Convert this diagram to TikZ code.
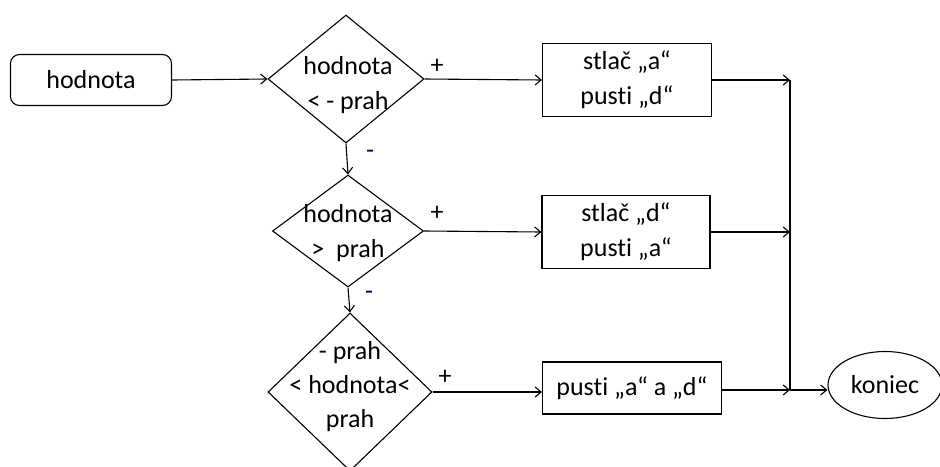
\documentclass[tikz,border=0pt]{standalone}
\usepackage{fontspec}
\setmainfont{Carlito}[Ligatures={NoCommon}]
\usetikzlibrary{shapes.geometric,arrows.meta}
\begin{document}
\begin{tikzpicture}[x=1pt,y=-1pt,
  every node/.style={font=\fontsize{26}{35}\selectfont},
  line/.style={line width=1.1pt},
  flow/.style={line, -{Straight Barb[length=6pt,width=10pt]}},
  startbox/.style={draw, line width=1.1pt, rounded corners=9pt, inner sep=0pt},
  actbox/.style={draw, line width=1.1pt, inner sep=0pt},
  decbox/.style={draw, diamond, line width=1.1pt, inner sep=0pt},
  endbox/.style={draw, ellipse, line width=1.1pt, inner sep=0pt},
  txt/.style={align=center, inner sep=0pt},
  sign/.style={inner sep=0pt}]
\useasboundingbox (0,0) rectangle (940,466);

% start
\node[startbox, minimum width=161pt, minimum height=51pt] (start) at (91,80) {};
\node[txt] at (start) {hodnota};

% decisions
\node[decbox, minimum width=156pt, minimum height=128pt] (d1) at (346,79) {};
\node[txt] at (348,85) {hodnota\\< - prah};
\node[decbox, minimum width=151pt, minimum height=112pt] (d2) at (348,231) {};
\node[txt] at (348,233) {hodnota\\ >\ \ prah};
\node[decbox, minimum width=164pt, minimum height=158pt] (d3) at (350,392) {};
\node[txt, font=\fontsize{26}{34}\selectfont] at (350,387) {- prah\\< hodnota<\\prah};

% actions
\node[actbox, minimum width=169pt, minimum height=73pt] (a1) at (627,80) {};
\node[txt] at (a1) {stlač „a“\\pusti „d“};
\node[actbox, minimum width=168pt, minimum height=73pt] (a2) at (626,232) {};
\node[txt] at (a2) {stlač „d“\\pusti „a“};
\node[actbox, minimum width=179pt, minimum height=52pt] (a3) at (632,388) {};
\node[txt] at (a3) {pusti „a“ a „d“};

% end
\node[endbox, minimum width=114pt, minimum height=67pt] (end) at (885,385) {};
\node[txt] at (end) {koniec};

% merge points
\coordinate (m1) at (790,80);
\coordinate (m2) at (790,232);
\coordinate (m3) at (790,390);

% connectors
\draw[flow] (start.east) -- (d1.west);
\draw[flow] (d1.east) -- (a1.west);
\draw[flow] (d2.east) -- (a2.west);
\draw[flow] (d3.east) -- (a3.west |- d3.east);
\draw[flow] (d1.south) -- (d2.north);
\draw[flow] (d2.south) -- (d3.north);
\draw[flow] (a1.east) -- (m1);
\draw[flow] (a2.east) -- (m2);
\draw[flow] (a3.east |- m3) -- (m3);
\draw[line] (m1) -- (m3);
\draw[flow] (m3) -- (end.west |- m3);

% branch signs
\node[sign] at (437,66) {+};
\node[sign] at (437,213) {+};
\node[sign] at (445,377) {+};
\node[sign, text=blue!40!black] at (370,154) {-};
\node[sign, text=blue!40!black] at (369,295) {-};
\end{tikzpicture}
\end{document}
